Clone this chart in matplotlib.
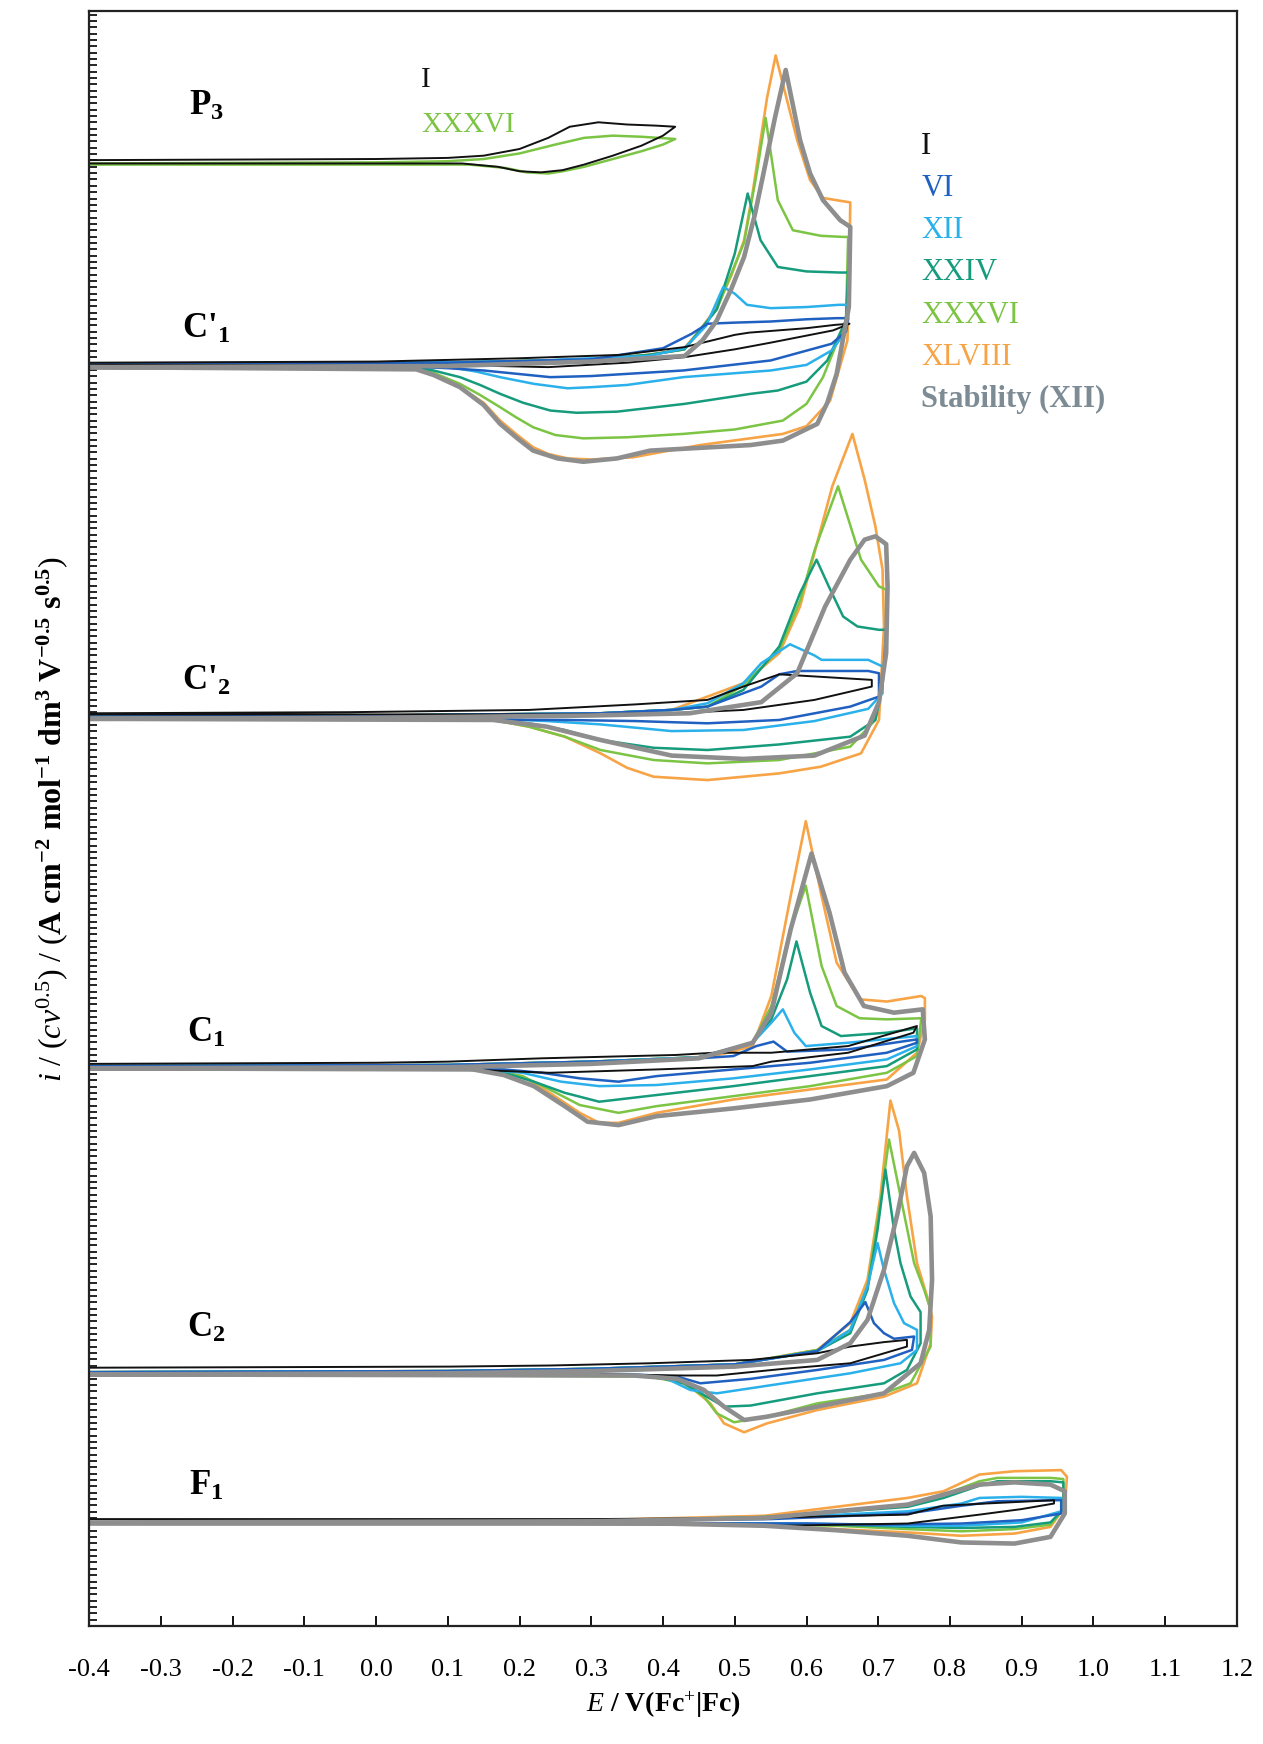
import numpy as np
import matplotlib
matplotlib.use('Agg')
import matplotlib.pyplot as plt
from matplotlib.ticker import MultipleLocator, NullFormatter

plt.rcParams['font.family'] = 'Liberation Serif'
plt.rcParams['mathtext.fontset'] = 'custom'
plt.rcParams['mathtext.rm'] = 'Liberation Serif'
plt.rcParams['mathtext.it'] = 'Liberation Serif:italic'
plt.rcParams['mathtext.bf'] = 'Liberation Serif:bold'
plt.rcParams['axes.unicode_minus'] = False

# -----------------------
# cycle labels / colours
# -----------------------
CYCLES = ['I', 'VI', 'XII', 'XXIV', 'XXXVI', 'XLVIII', 'Stability (XII)']
COLORS = ['#111111', '#2060c0', '#2ab0ea', '#169c7c', '#7cc444', '#f7a447', '#8e8e8e']

# group labels and vertical offsets (arbitrary current units)
GROUPS = ['P3', "C'1", "C'2", 'C1', 'C2', 'F1']
OFFSETS = [1315, 1133, 816, 502, 227, 93]

# -----------------------
# P3 (only I and XXXVI)
# -----------------------
P3_I = [(-0.4, 2), (0.0, 3), (0.1, 4), (0.15, 6), (0.2, 12), (0.24, 22), (0.27, 32), (0.31, 36), (0.35, 34),
        (0.39, 33), (0.417, 32), (0.40, 24), (0.37, 15), (0.33, 6), (0.29, -2), (0.26, -7), (0.23, -9),
        (0.2, -8), (0.17, -4), (0.12, -1), (0.0, -1), (-0.4, -1)]
P3_XXXVI = [(-0.4, -1), (0.0, 0), (0.1, 1), (0.15, 3), (0.2, 8), (0.25, 16), (0.29, 22), (0.33, 24), (0.37, 23),
            (0.417, 21), (0.40, 16), (0.37, 10), (0.33, 3), (0.29, -4), (0.26, -8), (0.24, -10), (0.21, -9),
            (0.18, -5), (0.13, -2), (0.0, -2), (-0.4, -2)]

# -----------------------
# C'1
# -----------------------
CP1_I = [(-0.4, 2), (0.0, 3), (0.2, 6), (0.34, 9), (0.43, 16), (0.5, 27), (0.52, 29), (0.6, 33), (0.64, 36),
         (0.66, 37), (0.637, 31), (0.55, 20), (0.5, 14), (0.43, 7), (0.35, 2), (0.24, -2), (0.1, 0), (-0.4, 0)]
CP1_VI = [(-0.4, 1), (0.1, 2), (0.3, 5), (0.4, 15), (0.44, 28), (0.462, 37), (0.5, 38), (0.55, 39), (0.6, 41),
          (0.642, 42), (0.658, 42), (0.655, 30), (0.635, 19), (0.55, 4), (0.428, -5), (0.3, -10), (0.243, -11),
          (0.15, -5), (0.102, -3), (0.0, 0), (-0.4, 0)]
CP1_XII = [(-0.4, 1), (0.2, 3), (0.3, 6), (0.38, 8), (0.43, 15), (0.46, 35), (0.484, 70), (0.5, 64), (0.517, 54),
           (0.55, 51), (0.6, 52), (0.645, 54), (0.658, 54), (0.655, 30), (0.635, 13), (0.6, 0), (0.55, -5),
           (0.428, -11), (0.35, -18), (0.3, -20), (0.267, -21), (0.22, -17), (0.173, -11), (0.14, -6),
           (0.102, -2), (-0.4, 0)]
CP1_XXIV = [(-0.4, 1), (0.1, 2), (0.3, 5), (0.38, 9), (0.43, 14), (0.475, 50), (0.5, 100), (0.518, 154),
            (0.536, 112), (0.56, 88), (0.6, 84), (0.647, 83), (0.658, 83), (0.655, 40), (0.629, 4), (0.6, -15),
            (0.56, -23), (0.522, -26), (0.43, -35), (0.336, -42), (0.28, -43), (0.243, -41), (0.205, -34),
            (0.173, -26), (0.145, -18), (0.117, -11), (0.08, -5), (0.056, -2), (-0.4, 0)]
CP1_XXXVI = [(-0.4, 1), (0.1, 2), (0.3, 5), (0.38, 9), (0.43, 14), (0.475, 50), (0.513, 110), (0.53, 170),
             (0.543, 222), (0.56, 148), (0.581, 121), (0.62, 116), (0.651, 115), (0.658, 115), (0.655, 40),
             (0.623, -11), (0.6, -35), (0.567, -50), (0.5, -58), (0.428, -62), (0.35, -65), (0.289, -66),
             (0.25, -63), (0.219, -56), (0.195, -47), (0.173, -38), (0.145, -27), (0.117, -17), (0.08, -7),
             (0.056, -3), (-0.4, 0)]
CP1_XLVIII = [(-0.4, 1), (0.1, 2), (0.3, 5), (0.38, 9), (0.428, 14), (0.45, 30), (0.475, 52), (0.495, 80),
              (0.513, 112), (0.525, 155), (0.536, 202), (0.545, 240), (0.557, 278), (0.587, 202), (0.605, 166),
              (0.623, 150), (0.661, 146), (0.659, 60), (0.657, 22), (0.633, -32), (0.6, -55), (0.567, -62),
              (0.452, -72), (0.4, -78), (0.358, -83), (0.3, -85), (0.267, -84), (0.24, -80), (0.219, -74),
              (0.197, -63), (0.173, -50), (0.15, -34), (0.117, -20), (0.08, -9), (0.056, -4), (-0.4, 0)]
CP1_STAB = [(-0.4, -2), (0.1, -1), (0.3, 3), (0.43, 8), (0.455, 22), (0.475, 40), (0.495, 68), (0.513, 97),
            (0.528, 135), (0.54, 172), (0.556, 222), (0.571, 265), (0.591, 202), (0.605, 172), (0.623, 148),
            (0.647, 130), (0.661, 124), (0.659, 52), (0.642, -8), (0.629, -34), (0.615, -53), (0.567, -68),
            (0.522, -72), (0.382, -77), (0.336, -84), (0.289, -87), (0.253, -84), (0.219, -77), (0.197, -66),
            (0.173, -53), (0.15, -36), (0.117, -20), (0.08, -9), (0.056, -4), (-0.4, -2)]

# -----------------------
# C'2
# -----------------------
CP2_I = [(-0.4, 4), (-0.036, 5), (0.213, 7), (0.362, 12), (0.462, 16), (0.512, 28), (0.562, 39), (0.691, 34),
         (0.691, 28), (0.611, 16), (0.512, 7), (0.412, 4), (0.263, 3), (-0.4, 3)]
CP2_VI = [(-0.4, 1), (0.0, 2), (0.313, 4), (0.412, 7), (0.462, 10), (0.537, 28), (0.562, 39), (0.587, 42),
          (0.686, 42), (0.701, 40), (0.701, 19), (0.661, 10), (0.562, -2), (0.462, -5), (0.362, -3), (0.263, -2),
          (-0.4, 0)]
CP2_XII = [(-0.4, 1), (0.0, 2), (0.313, 4), (0.412, 7), (0.462, 13), (0.512, 31), (0.537, 49), (0.577, 66),
           (0.611, 56), (0.621, 52), (0.686, 52), (0.706, 46), (0.706, 22), (0.686, 8), (0.611, -3), (0.512, -11),
           (0.412, -12), (0.313, -6), (0.238, -3), (0.163, -1), (-0.4, 0)]
CP2_XXIV = [(-0.4, 1), (0.0, 2), (0.313, 4), (0.412, 7), (0.462, 10), (0.512, 25), (0.562, 64), (0.591, 112),
            (0.614, 142), (0.631, 118), (0.651, 91), (0.671, 82), (0.701, 79), (0.711, 79), (0.706, 28),
            (0.696, -2), (0.661, -17), (0.562, -24), (0.462, -29), (0.387, -27), (0.313, -20), (0.263, -11),
            (0.213, -5), (0.163, -2), (-0.4, 0)]
CP2_XXXVI = [(-0.4, 1), (0.0, 2), (0.313, 4), (0.412, 7), (0.462, 10), (0.512, 29), (0.562, 61), (0.591, 105),
             (0.611, 150), (0.644, 208), (0.676, 142), (0.701, 118), (0.711, 115), (0.711, 58), (0.696, -2),
             (0.661, -26), (0.562, -38), (0.462, -41), (0.387, -38), (0.313, -29), (0.263, -17), (0.213, -8),
             (0.163, -2), (-0.4, 0)]
CP2_XLVIII = [(-0.4, 1), (0.0, 2), (0.313, 4), (0.412, 7), (0.512, 31), (0.562, 58), (0.591, 100), (0.611, 148),
              (0.636, 208), (0.664, 255), (0.681, 214), (0.696, 172), (0.706, 133), (0.708, 82), (0.701, -2),
              (0.676, -32), (0.62, -44), (0.562, -50), (0.462, -56), (0.387, -53), (0.35, -45), (0.313, -32),
              (0.263, -17), (0.213, -8), (0.163, -2), (-0.4, 0)]
CP2_STAB = [(-0.4, -1), (0.0, 0), (0.3, 2), (0.437, 4), (0.537, 14), (0.587, 40), (0.626, 100), (0.661, 142),
            (0.681, 160), (0.696, 163), (0.711, 156), (0.713, 118), (0.711, 58), (0.701, 14), (0.681, -16),
            (0.611, -34), (0.512, -37), (0.412, -34), (0.313, -20), (0.238, -8), (0.163, -2), (-0.4, -1)]

# -----------------------
# C1
# -----------------------
C1_I = [(-0.4, 3), (0.0, 4), (0.1, 5), (0.231, 8), (0.418, 11), (0.471, 13), (0.551, 13), (0.658, 19),
        (0.754, 37), (0.749, 31), (0.658, 13), (0.551, 5), (0.525, 1), (0.391, -2), (0.242, -5), (0.124, -2),
        (-0.4, 0)]
C1_VI = [(-0.4, 1), (0.1, 2), (0.3, 5), (0.45, 8), (0.498, 10), (0.530, 19), (0.554, 23), (0.573, 14),
         (0.658, 16), (0.754, 25), (0.754, 22), (0.712, 13), (0.605, 4), (0.498, -2), (0.391, -8), (0.338, -13),
         (0.284, -10), (0.231, -5), (0.178, -2), (-0.4, 0)]
C1_XII = [(-0.4, 1), (0.1, 2), (0.3, 5), (0.45, 9), (0.525, 22), (0.551, 40), (0.567, 52), (0.583, 31),
          (0.599, 19), (0.658, 22), (0.754, 28), (0.754, 19), (0.712, 7), (0.605, -2), (0.498, -10),
          (0.391, -16), (0.311, -17), (0.258, -13), (0.204, -5), (0.151, -2), (-0.4, 0)]
C1_XXIV = [(-0.4, 1), (0.1, 2), (0.3, 5), (0.45, 9), (0.525, 22), (0.551, 43), (0.573, 79), (0.586, 113),
           (0.605, 67), (0.621, 37), (0.648, 28), (0.712, 31), (0.754, 35), (0.754, 16), (0.712, 1), (0.605, -8),
           (0.498, -17), (0.391, -25), (0.311, -31), (0.263, -23), (0.22, -13), (0.178, -5), (0.124, -2),
           (-0.4, 0)]
C1_XXXVI = [(-0.4, 1), (0.1, 2), (0.3, 5), (0.45, 9), (0.525, 22), (0.551, 55), (0.578, 124), (0.599, 163),
            (0.621, 91), (0.642, 55), (0.674, 44), (0.712, 43), (0.760, 44), (0.754, 10), (0.712, -5),
            (0.605, -17), (0.498, -26), (0.391, -35), (0.338, -41), (0.284, -34), (0.242, -20), (0.204, -8),
            (0.151, -2), (-0.4, 0)]
C1_XLVIII = [(-0.4, 1), (0.1, 2), (0.3, 5), (0.418, 8), (0.471, 10), (0.525, 19), (0.551, 64), (0.578, 154),
             (0.599, 221), (0.621, 154), (0.642, 94), (0.674, 61), (0.712, 59), (0.760, 64), (0.765, 62),
             (0.765, 43), (0.754, 13), (0.712, -11), (0.605, -20), (0.498, -29), (0.391, -41), (0.338, -50),
             (0.311, -50), (0.284, -41), (0.242, -23), (0.204, -8), (0.151, -2), (-0.4, 0)]
C1_STAB = [(-0.4, -1), (0.1, 0), (0.3, 3), (0.45, 8), (0.525, 22), (0.551, 49), (0.578, 124), (0.607, 192),
           (0.632, 139), (0.653, 85), (0.68, 55), (0.722, 49), (0.762, 52), (0.765, 25), (0.749, -5),
           (0.712, -17), (0.605, -29), (0.498, -37), (0.391, -44), (0.338, -52), (0.295, -49), (0.263, -35),
           (0.22, -17), (0.178, -7), (0.135, -2), (-0.4, -1)]

# -----------------------
# C2
# -----------------------
C2_I = [(-0.4, 5), (0.103, 6), (0.243, 7), (0.382, 9), (0.522, 12), (0.615, 18), (0.661, 24), (0.708, 28),
        (0.740, 30), (0.740, 24), (0.661, 9), (0.568, 4), (0.475, -2), (0.429, -2), (0.3, -1), (-0.4, 0)]
C2_VI = [(-0.4, 1), (0.1, 2), (0.3, 4), (0.5, 8), (0.615, 20), (0.638, 33), (0.661, 46), (0.682, 64),
         (0.694, 45), (0.708, 36), (0.722, 31), (0.750, 33), (0.747, 21), (0.708, 12), (0.615, 3), (0.522, -5),
         (0.452, -9), (0.420, -3), (0.359, -1), (-0.4, 0)]
C2_XII = [(-0.4, 1), (0.1, 2), (0.3, 4), (0.5, 8), (0.615, 20), (0.661, 39), (0.685, 78), (0.699, 117),
          (0.708, 93), (0.722, 63), (0.736, 45), (0.754, 39), (0.754, 21), (0.731, 9), (0.661, 0), (0.568, -9),
          (0.475, -18), (0.438, -15), (0.406, -5), (0.359, -2), (-0.4, 0)]
C2_XXIV = [(-0.4, 1), (0.1, 2), (0.3, 4), (0.5, 8), (0.615, 20), (0.661, 36), (0.685, 75), (0.699, 129),
           (0.710, 183), (0.722, 129), (0.731, 99), (0.745, 69), (0.759, 55), (0.759, 27), (0.740, 3),
           (0.708, -9), (0.615, -18), (0.522, -29), (0.485, -30), (0.461, -21), (0.429, -9), (0.382, -2),
           (-0.4, 0)]
C2_XXXVI = [(-0.4, 1), (0.1, 2), (0.3, 4), (0.5, 8), (0.615, 21), (0.661, 39), (0.685, 78), (0.703, 153),
            (0.715, 210), (0.731, 159), (0.750, 99), (0.764, 75), (0.773, 57), (0.773, 24), (0.745, -9),
            (0.708, -18), (0.615, -27), (0.545, -39), (0.499, -44), (0.475, -36), (0.457, -21), (0.429, -9),
            (0.382, -3), (-0.4, 0)]
C2_XLVIII = [(-0.4, 1), (0.1, 2), (0.3, 4), (0.5, 8), (0.615, 21), (0.661, 45), (0.685, 84), (0.703, 159),
             (0.717, 245), (0.729, 218), (0.740, 159), (0.754, 99), (0.768, 69), (0.775, 51), (0.773, 27),
             (0.754, -9), (0.708, -21), (0.615, -33), (0.545, -45), (0.513, -53), (0.485, -45), (0.466, -27),
             (0.438, -12), (0.406, -3), (0.336, -2), (-0.4, 0)]
C2_STAB = [(-0.4, -1), (0.1, 0), (0.3, 2), (0.5, 6), (0.615, 12), (0.661, 27), (0.685, 48), (0.708, 93),
           (0.727, 144), (0.740, 186), (0.750, 198), (0.764, 180), (0.773, 141), (0.775, 84), (0.771, 39),
           (0.759, 9), (0.708, -18), (0.615, -30), (0.545, -39), (0.513, -42), (0.485, -30), (0.457, -15),
           (0.420, -5), (0.359, -2), (-0.4, -1)]

# -----------------------
# F1
# -----------------------
F1_I = [(-0.4, 3), (0.3, 3), (0.52, 4), (0.741, 7), (0.79, 15), (0.85, 17), (0.945, 20), (0.945, 17),
        (0.9, 12), (0.841, 7), (0.741, -1), (0.562, -3), (0.45, -2), (-0.4, 0)]
F1_VI = [(-0.4, 0), (0.3, 1), (0.55, 3), (0.741, 8), (0.816, 15), (0.866, 19), (0.955, 20), (0.955, 8),
         (0.9, 2), (0.816, -1), (0.7, -2), (0.6, -1), (-0.4, 0)]
F1_XII = [(-0.4, 0), (0.3, 1), (0.55, 4), (0.741, 10), (0.816, 17), (0.841, 22), (0.9, 23), (0.955, 22),
          (0.955, 10), (0.9, 0), (0.816, -3), (0.741, -3), (0.6, -1), (-0.4, 0)]
F1_XXIV = [(-0.4, 0), (0.3, 1), (0.55, 5), (0.741, 14), (0.791, 22), (0.841, 33), (0.866, 37), (0.94, 37),
           (0.958, 36), (0.958, 12), (0.94, 0), (0.89, -4), (0.816, -5), (0.741, -4), (0.641, -2), (0.5, -1),
           (-0.4, 0)]
F1_XXXVI = [(-0.4, 0), (0.3, 1), (0.55, 5), (0.741, 15), (0.791, 25), (0.841, 37), (0.866, 40), (0.94, 40),
            (0.958, 39), (0.958, 12), (0.94, -2), (0.89, -6), (0.816, -8), (0.741, -6), (0.641, -3), (0.5, -1),
            (-0.4, 0)]
F1_XLVIII = [(-0.4, 0), (0.3, 2), (0.542, 6), (0.641, 14), (0.741, 22), (0.791, 28), (0.841, 43), (0.89, 46),
             (0.955, 47), (0.963, 41), (0.96, 14), (0.94, -4), (0.89, -10), (0.816, -12), (0.741, -9),
             (0.641, -6), (0.567, -4), (0.45, -1), (-0.4, 0)]
F1_STAB = [(-0.4, 0), (0.3, 1), (0.542, 4), (0.741, 16), (0.791, 25), (0.841, 34), (0.89, 36), (0.94, 34),
           (0.96, 28), (0.96, 8), (0.94, -13), (0.89, -19), (0.816, -18), (0.741, -12), (0.641, -7),
           (0.542, -3), (0.4, -1), (-0.4, -1)]

# cycles per group, in CYCLES order (None = not recorded)
GROUP_CURVES = [
    [P3_I, None, None, None, P3_XXXVI, None, None],
    [CP1_I, CP1_VI, CP1_XII, CP1_XXIV, CP1_XXXVI, CP1_XLVIII, CP1_STAB],
    [CP2_I, CP2_VI, CP2_XII, CP2_XXIV, CP2_XXXVI, CP2_XLVIII, CP2_STAB],
    [C1_I, C1_VI, C1_XII, C1_XXIV, C1_XXXVI, C1_XLVIII, C1_STAB],
    [C2_I, C2_VI, C2_XII, C2_XXIV, C2_XXXVI, C2_XLVIII, C2_STAB],
    [F1_I, F1_VI, F1_XII, F1_XXIV, F1_XXXVI, F1_XLVIII, F1_STAB],
]

LINE_W = [1.4, 1.8, 1.8, 1.8, 1.8, 1.9, 3.3]
DRAW_ORDER = [5, 4, 3, 2, 1, 0, 6]   # orange at the back, grey on top

fig = plt.figure(figsize=(12.63, 17.44), dpi=100)
ax = fig.add_axes([0.0705, 0.0677, 0.9089, 0.9260])

for gi, curves in enumerate(GROUP_CURVES):
    base = OFFSETS[gi]
    for k in DRAW_ORDER:
        c = curves[k]
        if c is None:
            continue
        arr = np.array(c, dtype=float)
        ax.plot(arr[:, 0], arr[:, 1] + base, color=COLORS[k], lw=LINE_W[k],
                solid_joinstyle='round', solid_capstyle='round')

# group labels
GROUP_TEXT = [r'P$_\mathbf{3}$', r"C'$_\mathbf{1}$", r"C'$_\mathbf{2}$", r'C$_\mathbf{1}$',
              r'C$_\mathbf{2}$', r'F$_\mathbf{1}$']
LABEL_Y = [1365, 1165, 849, 532, 267, 125]
for t, y in zip(GROUP_TEXT, LABEL_Y):
    ax.text(-0.237, y, t, fontsize=25, fontweight='bold', ha='center', va='center')

# inline labels in P3
ax.text(0.070, 1389, 'I', fontsize=21, color=COLORS[0], ha='center', va='center')
ax.text(0.129, 1349, 'XXXVI', fontsize=21, color=COLORS[4], ha='center', va='center')

# colour key
for k, name in enumerate(CYCLES):
    col = COLORS[k] if k < 6 else '#7d8b94'
    ax.text(0.760, 1329 - k * 37.8, name, fontsize=22, color=col, ha='left', va='center',
            fontweight='bold' if k == 6 else 'normal')

xt = np.round(np.arange(-0.4, 1.21, 0.1), 1)
ax.set_xlim(-0.4, 1.2)
ax.set_ylim(0, 1451)
ax.set_xticks(xt)
ax.set_xticklabels(['%.1f' % (v + 0.0) if abs(v) > 1e-9 else '0.0' for v in xt])
ax.yaxis.set_major_locator(MultipleLocator(5.7))
ax.yaxis.set_major_formatter(NullFormatter())
ax.tick_params(axis='x', direction='in', length=7, width=1.3, labelsize=19, pad=24, top=False)
ax.tick_params(axis='y', direction='in', length=6, width=1.2, right=False)
for s in ax.spines.values():
    s.set_linewidth(1.6)
    s.set_color('#222222')

ax.set_xlabel(r'$E$ / V(Fc$^{+}$|Fc)', fontsize=20, fontweight='bold', labelpad=6)
ax.set_ylabel(r'$i\ /\ (cv^{0.5})\ /\ (\mathbf{A\ cm^{-2}\ mol^{-1}\ dm^{3}\ V^{-0.5}\ s^{0.5}})$',
              fontsize=23, labelpad=10)

fig.savefig('out.png', dpi=100)
